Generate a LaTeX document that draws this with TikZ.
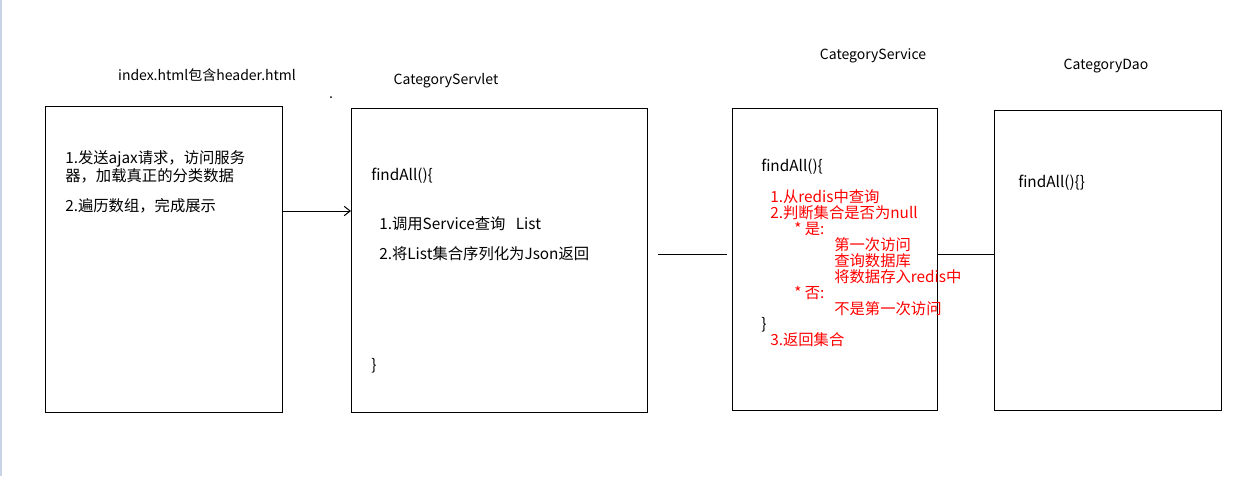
\documentclass[tikz,border=0pt]{standalone}
\usepackage{fontspec}
\setmainfont{Noto Sans CJK SC}
\usetikzlibrary{arrows.meta,positioning}
\definecolor{edgeblue}{RGB}{200,212,230}
\tikzset{
  >={Straight Barb[length=4.5pt,width=7pt]},
  box/.style={draw, line width=0.75pt, inner sep=0pt, anchor=north west},
  title/.style={inner sep=0pt, font=\fontsize{10.5}{12}\selectfont},
  code/.style={align=left, anchor=north west, inner sep=0pt,
               font=\fontsize{11.5}{12}\selectfont},
  note/.style={code, text=red},
  arr/.style={->, line width=0.75pt},
  link/.style={line width=0.75pt},
}

\begin{document}
\begin{tikzpicture}[x=0.75pt, y=-0.75pt]
  \useasboundingbox (0,0) rectangle (1258,476);
  \fill[edgeblue] (0,0) rectangle (2,476);

  % the four layers
  \node[box, minimum width=177.75pt, minimum height=229.5pt] (page) at (45,106) {};
  \node[box, minimum width=222pt, minimum height=228pt] (servlet) at (351,108) {};
  \node[box, minimum width=153.75pt, minimum height=226.5pt] (svc) at (732,108) {};
  \node[box, minimum width=170.25pt, minimum height=225pt] (dao) at (994,110) {};

  \node[title] (pagetitle) at (207,75) {index.html包含header.html};
  \node[title] (servlettitle) at (446,81) {CategoryServlet};
  \node[title] (svctitle) at (873,56) {CategoryService};
  \node[title] (daotitle) at (1106,66) {CategoryDao};
  \fill (331,97) circle (0.75pt);

  % page
  \node[code] (pagetext) at (65,150) {1.发送ajax请求，访问服务\\器，加载真正的分类数据};
  \node[code] (pagestep) at (65,198) {2.遍历数组，完成展示};

  % servlet
  \node[code] (servletfn) at (371,168) {findAll()\{};
  \node[code] (servletsteps) at (379,216) {1.调用Service查询\ \ \ List\\[11pt]2.将List集合序列化为Json返回};
  \node[code] (servletend) at (371,358) {\}};

  % service
  \node[code] (svcfn) at (761,159) {findAll()\{};
  \node[note] (svcsteps) at (770,189) {1.从redis中查询\\
    2.判断集合是否为null\\
    \hspace*{18pt}* 是:\\
    \hspace*{48pt}第一次访问\\
    \hspace*{48pt}查询数据库\\
    \hspace*{48pt}将数据存入redis中\\
    \hspace*{18pt}* 否:\\
    \hspace*{48pt}不是第一次访问};
  \node[code] (svcend) at (761,317) {\}};
  \node[note] (svcret) at (770,332) {3.返回集合};

  % dao
  \node[code] (daofn) at (1018,175) {findAll()\{\}};

  % connectors
  \coordinate (arrowrow) at (0,211);
  \coordinate (linkrow) at (0,254);
  \coordinate (gapl) at (658,254);
  \coordinate (gapr) at (727,254);
  \draw[arr] (page.east |- arrowrow) -- (servlet.west |- arrowrow);
  \draw[link] (gapl) -- (gapr);
  \draw[link] (svc.east |- linkrow) -- (dao.west |- linkrow);
\end{tikzpicture}
\end{document}
